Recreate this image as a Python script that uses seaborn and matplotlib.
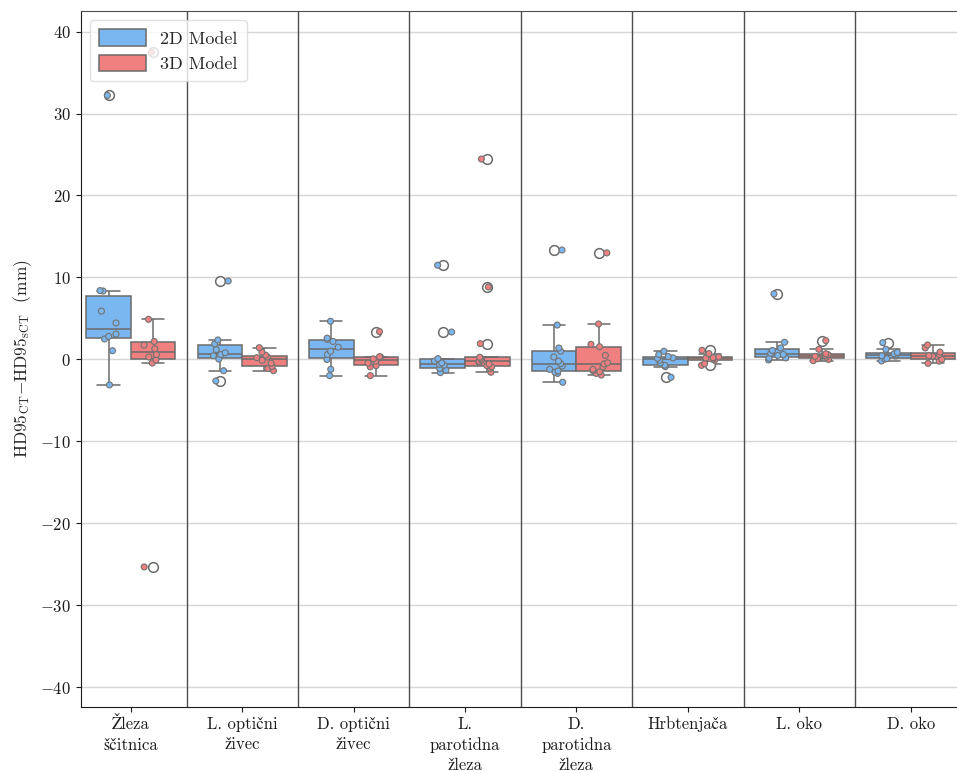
import numpy as np
import pandas as pd
import seaborn as sns
import matplotlib.pyplot as plt

categories = ["Žleza\nščitnica", "L. optični\nživec", "D. optični\nživec",
              "L.\nparotidna\nžleza", "D.\nparotidna\nžleza", "Hrbtenjača",
              "L. oko", "D. oko"]
models = ["2D Model", "3D Model"]

thyroid_2d = [-3.1, 1.07, 2.5, 2.82, 3.1, 4.45, 5.9, 8.35, 8.4, 32.2]
thyroid_3d = [-25.3, -0.43, -0.07, 0.3, 0.6, 1.3, 1.75, 2.2, 4.9, 37.5]
l_optic_2d = [-2.62, -1.37, 0.05, 0.45, 0.6, 0.82, 1.2, 1.9, 2.38, 9.57]
l_optic_3d = [-1.37, -1.1, -0.85, -0.45, -0.1, 0.22, 0.3, 0.53, 0.9, 1.44]
d_optic_2d = [-1.97, -1.2, 0.0, 0.6, 1.0, 1.5, 2.2, 2.45, 2.6, 4.66]
d_optic_3d = [-1.97, -0.9, -0.75, -0.45, -0.2, 0.08, 0.2, 0.3, 0.34, 3.4]
l_parotid_2d = [-1.6, -1.3, -1.1, -0.7, -0.6, -0.42, -0.2, 0.1, 3.35, 11.5]
l_parotid_3d = [-1.56, -1.1, -0.9, -0.75, -0.55, -0.35, -0.22, -0.05, 0.15,
                0.27, 1.93, 8.84, 24.45]
d_parotid_2d = [-2.78, -1.7, -1.55, -1.4, -1.2, -0.8, -0.5, -0.2, 0.3, 1.0,
                1.4, 4.2, 13.35]
d_parotid_3d = [-1.9, -1.7, -1.5, -1.37, -1.2, -0.9, -0.55, -0.4, 0.5, 1.56,
                1.85, 4.33, 13.0]
spinal_2d = [-2.17, -0.88, -0.7, -0.43, -0.1, 0.14, 0.2, 0.35, 0.6, 1.0]
spinal_3d = [-0.72, -0.5, -0.1, 0.05, 0.1, 0.18, 0.22, 0.3, 0.72, 1.12]
l_eye_2d = [-0.06, 0.15, 0.2, 0.5, 0.6, 0.75, 1.1, 1.4, 2.1, 8.0]
l_eye_3d = [-0.15, 0.0, 0.1, 0.27, 0.38, 0.48, 0.6, 0.7, 1.24, 2.3]
d_eye_2d = [-0.18, 0.05, 0.1, 0.42, 0.45, 0.57, 0.7, 0.87, 1.24, 2.05]
d_eye_3d = [-0.47, -0.2, 0.0, 0.4, 0.4, 0.46, 0.6, 0.9, 1.4, 1.77]

series_2d = [thyroid_2d, l_optic_2d, d_optic_2d, l_parotid_2d, d_parotid_2d,
             spinal_2d, l_eye_2d, d_eye_2d]
series_3d = [thyroid_3d, l_optic_3d, d_optic_3d, l_parotid_3d, d_parotid_3d,
             spinal_3d, l_eye_3d, d_eye_3d]

rows = []
for cat, v2, v3 in zip(categories, series_2d, series_3d):
    rows += [(cat, models[0], v) for v in v2]
    rows += [(cat, models[1], v) for v in v3]
df = pd.DataFrame(rows, columns=["organ", "model", "value"])

palette = {"2D Model": "#7ab6f0", "3D Model": "#f07f7f"}

sns.set_style("ticks")
plt.rcParams["font.family"] = ["cmr10", "STIXGeneral", "DejaVu Serif"]
plt.rcParams["mathtext.fontset"] = "cm"
plt.rcParams["axes.formatter.use_mathtext"] = True
plt.rcParams["axes.unicode_minus"] = True

np.random.seed(3)
fig = plt.figure(figsize=(9.57, 7.71), dpi=100)
ax = fig.add_axes([0.0843, 0.0834, 0.9157, 0.9023])

sns.boxplot(data=df, x="organ", y="value", hue="model", order=categories,
            hue_order=models, palette=palette, saturation=1,
            linecolor="0.42", linewidth=1.1, width=0.8, gap=0, ax=ax,
            flierprops=dict(marker="o", markerfacecolor="white",
                            markeredgecolor="0.42", markersize=7,
                            markeredgewidth=1.1))
sns.stripplot(data=df, x="organ", y="value", hue="model", order=categories,
              hue_order=models, palette=palette, dodge=True, size=4.3,
              linewidth=0.8, edgecolor="0.45", jitter=0.17, ax=ax,
              legend=False)

for i in range(len(categories) - 1):
    ax.axvline(i + 0.5, color="0.3", lw=1.0, zorder=0.6)

ax.set_xlim(-0.45, 7.416)
ax.set_ylim(-42.35, 42.5)
ax.set_yticks(np.arange(-40, 41, 10))
ax.yaxis.grid(True, color="0.84", lw=1.0)
ax.set_axisbelow(True)
ax.tick_params(labelsize=12, colors="0.1")
for lab in ax.get_xticklabels():
    lab.set_linespacing(1.4)
ax.set_xlabel("")
ax.set_ylabel(r"$\mathrm{HD95}_{\mathrm{CT}}{-}\mathrm{HD95}_{\mathrm{sCT}}$  (mm)",
              fontsize=12.5)

ax.spines["right"].set_visible(False)
ax.spines["top"].set_color("0.3")
for s in ["left", "bottom"]:
    ax.spines[s].set_color("0.1")

leg = ax.legend(loc="upper left", fontsize=13, handlelength=2.6,
                handleheight=1.05, borderpad=0.5, labelspacing=0.45,
                frameon=True, framealpha=0.8, edgecolor="0.85")
leg.set_title(None)

fig.savefig("out.png", dpi=100)
